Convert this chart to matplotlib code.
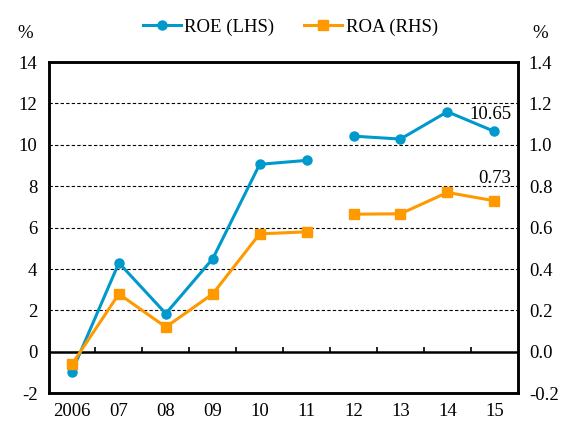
import numpy as np
import matplotlib
matplotlib.use("Agg")
import matplotlib.pyplot as plt

plt.rcParams['font.family'] = ['Liberation Serif', 'DejaVu Serif']
plt.rcParams['axes.unicode_minus'] = False

# data
years = ["2006", "07", "08", "09", "10", "11", "12", "13", "14", "15"]
roe = [-0.95, 4.3, 1.85, 4.5, 9.06, 9.25, 10.42, 10.28, 11.6, 10.65]
roa = [-0.06, 0.28, 0.12, 0.28, 0.57, 0.58, 0.665, 0.667, 0.77, 0.73]
left_ticks = [-2, 0, 2, 4, 6, 8, 10, 12, 14]
right_ticks = [-0.2, 0.0, 0.2, 0.4, 0.6, 0.8, 1.0, 1.2, 1.4]

blue = "#0099cc"
orange = "#ff9900"
fs = 13.5

fig = plt.figure(figsize=(5.64, 4.22), dpi=100)
ax = fig.add_axes([0.086, 0.068, 0.832, 0.785])
ax2 = ax.twinx()

x = np.arange(len(years))
# series break between 11 and 12
cut = 6
ax.plot(x[:cut], roe[:cut], color=blue, lw=2.2, marker="o", ms=6.5, label="ROE (LHS)", zorder=4)
ax.plot(x[cut:], roe[cut:], color=blue, lw=2.2, marker="o", ms=6.5, zorder=4)
ax2.plot(x[:cut], roa[:cut], color=orange, lw=2.2, marker="s", ms=6.5, label="ROA (RHS)", zorder=4)
ax2.plot(x[cut:], roa[cut:], color=orange, lw=2.2, marker="s", ms=6.5, zorder=4)

ax.set_xlim(-0.5, len(years) - 0.5)
ax.set_ylim(-2, 14)
ax2.set_ylim(-0.2, 1.4)

ax.set_yticks(left_ticks)
ax.set_yticklabels([str(t) for t in left_ticks])
ax2.set_yticks(right_ticks)
ax2.set_yticklabels(["%.1f" % t for t in right_ticks])
ax.set_xticks(x)
ax.set_xticklabels(years)

ax.tick_params(axis="y", length=0, pad=8, labelsize=fs)
ax2.tick_params(axis="y", length=0, pad=8, labelsize=fs)
ax.tick_params(axis="x", length=0, pad=7, labelsize=fs)

for a in (ax, ax2):
    for s in a.spines.values():
        s.set_linewidth(1.8)

# dashed grid and zero line
for t in left_ticks[2:-1]:
    ax.axhline(t, color="black", lw=0.8, ls=(0, (3, 2)), zorder=1)
ax.axhline(0, color="black", lw=1.8, zorder=2)
# small ticks on the zero line between categories
ax.vlines(x[:-1] + 0.5, 0, 0.22, color="black", lw=1.2, zorder=2)

ax.annotate("10.65", (x[-1], roe[-1]), xytext=(-3, 6), textcoords="offset points",
            ha="center", va="bottom", fontsize=fs)
ax2.annotate("0.73", (x[-1], roa[-1]), xytext=(0, 10), textcoords="offset points",
             ha="center", va="bottom", fontsize=fs)

fig.text(0.044, 0.92, "%", ha="center", va="center", fontsize=fs)
fig.text(0.958, 0.92, "%", ha="center", va="center", fontsize=fs)

h1, l1 = ax.get_legend_handles_labels()
h2, l2 = ax2.get_legend_handles_labels()
fig.legend(h1 + h2, l1 + l2, loc="center", bbox_to_anchor=(0.515, 0.935), ncol=2,
           frameon=False, fontsize=fs, handlelength=2.0, columnspacing=1.6,
           handletextpad=0.2)

fig.savefig("out.png", dpi=100)
